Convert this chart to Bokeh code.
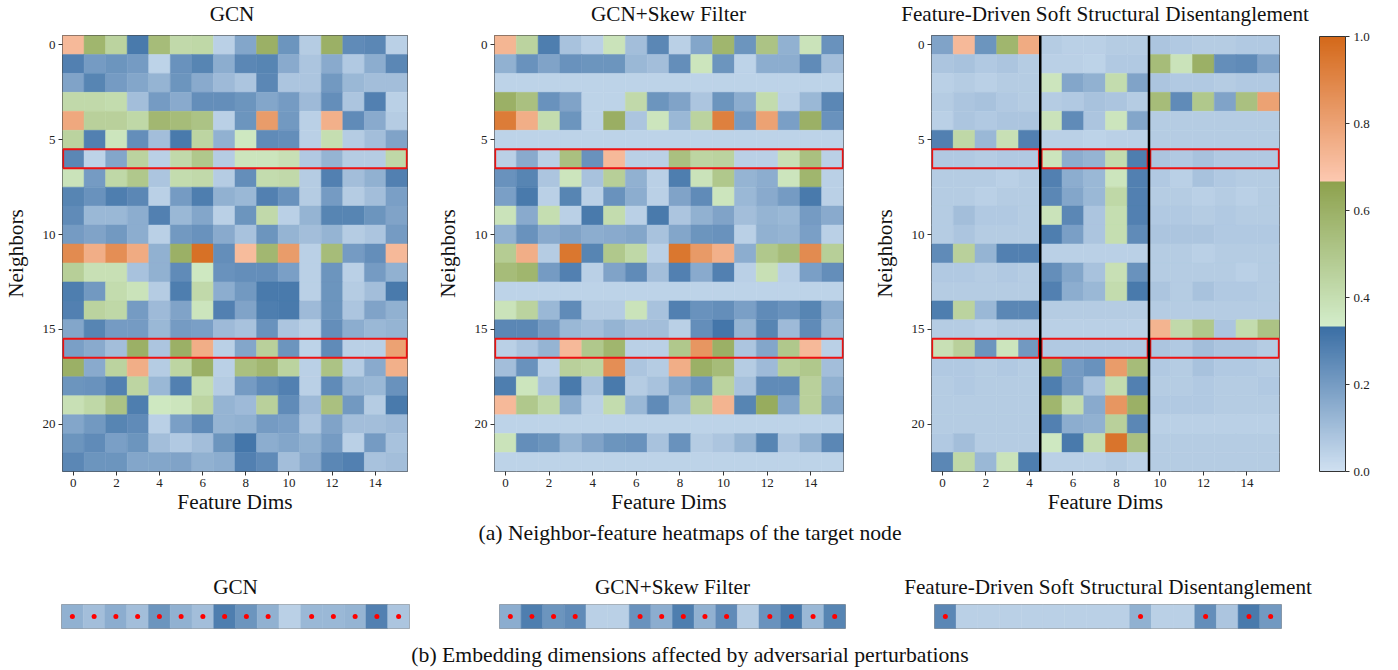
from bokeh.plotting import figure
from bokeh.models import (ColumnDataSource, LinearColorMapper, ColorBar, FixedTicker,
                          PrintfTickFormatter, Range1d, Div, Span)
from bokeh.layouts import row, column
from bokeh.transform import transform
from bokeh.embed import file_html
from bokeh.resources import INLINE

FONT = "Liberation Serif"

# ---------------- data ----------------
x_ticks = [0, 2, 4, 6, 8, 10, 12, 14]
y_ticks = [0, 5, 10, 15, 20]
cbar_ticks = [0.0, 0.2, 0.4, 0.6, 0.8, 1.0]
highlight_rows = [6, 16]
fd_split_cols = [4.5, 9.5]

titles = ["GCN", "GCN+Skew Filter", "Feature-Driven Soft Structural Disentanglement"]

gcn = [
    [0.72, 0.58, 0.45, 0.30, 0.55, 0.42, 0.43, 0.05, 0.17, 0.60, 0.22, 0.06, 0.60, 0.25, 0.26, 0.05],
    [0.28, 0.20, 0.22, 0.20, 0.04, 0.23, 0.27, 0.15, 0.26, 0.27, 0.16, 0.08, 0.16, 0.07, 0.15, 0.26],
    [0.18, 0.27, 0.20, 0.17, 0.13, 0.22, 0.16, 0.11, 0.08, 0.26, 0.08, 0.08, 0.21, 0.12, 0.10, 0.10],
    [0.42, 0.42, 0.41, 0.10, 0.20, 0.16, 0.24, 0.24, 0.22, 0.17, 0.20, 0.11, 0.24, 0.08, 0.28, 0.05],
    [0.78, 0.46, 0.46, 0.43, 0.57, 0.55, 0.52, 0.05, 0.22, 0.82, 0.21, 0.05, 0.75, 0.25, 0.16, 0.06],
    [0.45, 0.28, 0.37, 0.24, 0.10, 0.30, 0.44, 0.14, 0.36, 0.25, 0.24, 0.05, 0.40, 0.06, 0.10, 0.18],
    [0.26, 0.04, 0.17, 0.45, 0.05, 0.42, 0.50, 0.06, 0.37, 0.37, 0.39, 0.07, 0.13, 0.06, 0.06, 0.43],
    [0.38, 0.20, 0.43, 0.50, 0.08, 0.41, 0.42, 0.06, 0.24, 0.41, 0.42, 0.06, 0.28, 0.10, 0.14, 0.28],
    [0.27, 0.23, 0.29, 0.26, 0.05, 0.20, 0.29, 0.14, 0.12, 0.28, 0.23, 0.06, 0.20, 0.06, 0.10, 0.19],
    [0.25, 0.12, 0.12, 0.15, 0.28, 0.12, 0.17, 0.05, 0.22, 0.42, 0.05, 0.13, 0.27, 0.27, 0.22, 0.18],
    [0.20, 0.18, 0.21, 0.15, 0.05, 0.21, 0.23, 0.16, 0.09, 0.22, 0.13, 0.10, 0.13, 0.06, 0.08, 0.20],
    [0.88, 0.76, 0.87, 0.77, 0.14, 0.60, 0.97, 0.24, 0.71, 0.57, 0.82, 0.05, 0.55, 0.20, 0.24, 0.72],
    [0.47, 0.39, 0.39, 0.09, 0.14, 0.25, 0.36, 0.23, 0.24, 0.24, 0.19, 0.05, 0.22, 0.05, 0.20, 0.14],
    [0.29, 0.21, 0.41, 0.38, 0.06, 0.29, 0.42, 0.15, 0.21, 0.30, 0.30, 0.05, 0.22, 0.06, 0.10, 0.30],
    [0.28, 0.45, 0.43, 0.20, 0.11, 0.18, 0.37, 0.28, 0.18, 0.29, 0.30, 0.11, 0.22, 0.08, 0.18, 0.14],
    [0.17, 0.27, 0.20, 0.20, 0.12, 0.20, 0.19, 0.11, 0.09, 0.23, 0.08, 0.05, 0.24, 0.15, 0.12, 0.13],
    [0.19, 0.16, 0.10, 0.60, 0.08, 0.60, 0.76, 0.05, 0.17, 0.46, 0.22, 0.04, 0.25, 0.05, 0.05, 0.80],
    [0.60, 0.16, 0.45, 0.76, 0.06, 0.44, 0.60, 0.05, 0.53, 0.57, 0.45, 0.05, 0.52, 0.06, 0.16, 0.75],
    [0.22, 0.23, 0.28, 0.44, 0.12, 0.28, 0.40, 0.06, 0.20, 0.25, 0.28, 0.05, 0.25, 0.13, 0.12, 0.23],
    [0.39, 0.43, 0.52, 0.29, 0.36, 0.37, 0.44, 0.13, 0.11, 0.46, 0.25, 0.11, 0.53, 0.21, 0.06, 0.30],
    [0.17, 0.21, 0.27, 0.25, 0.05, 0.19, 0.25, 0.13, 0.14, 0.20, 0.19, 0.08, 0.18, 0.10, 0.10, 0.11],
    [0.22, 0.25, 0.19, 0.22, 0.10, 0.07, 0.10, 0.22, 0.31, 0.15, 0.17, 0.14, 0.20, 0.05, 0.20, 0.09],
    [0.26, 0.22, 0.22, 0.17, 0.17, 0.18, 0.14, 0.15, 0.28, 0.25, 0.10, 0.16, 0.26, 0.28, 0.09, 0.10],
]

skew = [
    [0.73, 0.45, 0.29, 0.09, 0.05, 0.38, 0.10, 0.26, 0.05, 0.17, 0.58, 0.22, 0.52, 0.14, 0.38, 0.23],
    [0.14, 0.23, 0.18, 0.23, 0.22, 0.22, 0.12, 0.10, 0.24, 0.37, 0.22, 0.04, 0.15, 0.15, 0.25, 0.10],
    [0.04, 0.04, 0.04, 0.04, 0.04, 0.04, 0.04, 0.04, 0.04, 0.04, 0.04, 0.04, 0.04, 0.04, 0.04, 0.04],
    [0.60, 0.53, 0.23, 0.18, 0.04, 0.04, 0.42, 0.22, 0.18, 0.08, 0.22, 0.15, 0.41, 0.05, 0.12, 0.26],
    [0.93, 0.76, 0.41, 0.22, 0.04, 0.61, 0.08, 0.37, 0.12, 0.45, 0.92, 0.20, 0.80, 0.19, 0.60, 0.23],
    [0.04, 0.04, 0.04, 0.04, 0.04, 0.04, 0.04, 0.04, 0.04, 0.04, 0.04, 0.04, 0.04, 0.04, 0.04, 0.04],
    [0.05, 0.16, 0.05, 0.53, 0.23, 0.72, 0.05, 0.05, 0.53, 0.44, 0.45, 0.05, 0.05, 0.39, 0.53, 0.05],
    [0.23, 0.27, 0.08, 0.37, 0.09, 0.47, 0.14, 0.05, 0.29, 0.38, 0.50, 0.13, 0.15, 0.37, 0.58, 0.05],
    [0.19, 0.30, 0.05, 0.27, 0.05, 0.23, 0.15, 0.05, 0.18, 0.25, 0.37, 0.12, 0.16, 0.20, 0.30, 0.05],
    [0.38, 0.16, 0.40, 0.05, 0.30, 0.41, 0.05, 0.30, 0.08, 0.14, 0.18, 0.10, 0.13, 0.12, 0.20, 0.16],
    [0.14, 0.23, 0.16, 0.18, 0.15, 0.16, 0.17, 0.09, 0.17, 0.22, 0.23, 0.05, 0.14, 0.13, 0.19, 0.05],
    [0.48, 0.76, 0.06, 0.95, 0.27, 0.50, 0.43, 0.05, 0.95, 0.83, 0.75, 0.15, 0.50, 0.55, 0.88, 0.47],
    [0.55, 0.58, 0.20, 0.28, 0.05, 0.18, 0.25, 0.10, 0.28, 0.16, 0.28, 0.05, 0.39, 0.05, 0.19, 0.24],
    [0.04, 0.04, 0.04, 0.04, 0.04, 0.04, 0.04, 0.04, 0.04, 0.04, 0.04, 0.04, 0.04, 0.04, 0.04, 0.04],
    [0.38, 0.45, 0.12, 0.25, 0.06, 0.06, 0.38, 0.09, 0.28, 0.23, 0.24, 0.19, 0.25, 0.23, 0.27, 0.15],
    [0.26, 0.26, 0.20, 0.12, 0.10, 0.13, 0.10, 0.10, 0.05, 0.24, 0.31, 0.13, 0.27, 0.11, 0.25, 0.12],
    [0.05, 0.08, 0.13, 0.72, 0.50, 0.58, 0.05, 0.05, 0.50, 0.84, 0.60, 0.08, 0.17, 0.50, 0.72, 0.05],
    [0.10, 0.23, 0.05, 0.46, 0.44, 0.87, 0.08, 0.06, 0.76, 0.60, 0.55, 0.06, 0.11, 0.47, 0.50, 0.10],
    [0.29, 0.37, 0.09, 0.30, 0.09, 0.30, 0.06, 0.09, 0.17, 0.22, 0.45, 0.09, 0.25, 0.25, 0.46, 0.14],
    [0.72, 0.50, 0.43, 0.15, 0.05, 0.41, 0.12, 0.25, 0.12, 0.46, 0.74, 0.27, 0.62, 0.17, 0.46, 0.17],
    [0.04, 0.04, 0.04, 0.04, 0.04, 0.04, 0.04, 0.04, 0.04, 0.04, 0.04, 0.04, 0.04, 0.04, 0.04, 0.04],
    [0.38, 0.24, 0.22, 0.13, 0.18, 0.22, 0.23, 0.09, 0.23, 0.06, 0.08, 0.13, 0.27, 0.08, 0.14, 0.26],
    [0.04, 0.04, 0.04, 0.04, 0.04, 0.04, 0.04, 0.04, 0.04, 0.04, 0.04, 0.04, 0.04, 0.04, 0.04, 0.04],
]

fdssd = [
    [0.18, 0.72, 0.22, 0.58, 0.77, 0.06, 0.05, 0.05, 0.06, 0.06, 0.08, 0.07, 0.06, 0.06, 0.07, 0.07],
    [0.08, 0.09, 0.07, 0.08, 0.06, 0.05, 0.05, 0.04, 0.07, 0.07, 0.55, 0.38, 0.60, 0.24, 0.25, 0.18],
    [0.05, 0.06, 0.05, 0.06, 0.06, 0.37, 0.17, 0.14, 0.41, 0.18, 0.08, 0.07, 0.07, 0.06, 0.07, 0.07],
    [0.06, 0.08, 0.09, 0.07, 0.06, 0.06, 0.07, 0.09, 0.08, 0.06, 0.55, 0.25, 0.50, 0.18, 0.53, 0.80],
    [0.05, 0.08, 0.07, 0.08, 0.08, 0.38, 0.25, 0.08, 0.37, 0.17, 0.06, 0.06, 0.06, 0.06, 0.06, 0.06],
    [0.28, 0.43, 0.12, 0.39, 0.28, 0.05, 0.05, 0.04, 0.05, 0.05, 0.06, 0.06, 0.06, 0.06, 0.06, 0.06],
    [0.07, 0.07, 0.06, 0.07, 0.07, 0.37, 0.15, 0.13, 0.41, 0.29, 0.08, 0.07, 0.09, 0.07, 0.07, 0.07],
    [0.06, 0.06, 0.06, 0.05, 0.06, 0.28, 0.15, 0.12, 0.37, 0.28, 0.07, 0.05, 0.09, 0.07, 0.06, 0.06],
    [0.06, 0.06, 0.05, 0.06, 0.06, 0.26, 0.17, 0.12, 0.43, 0.28, 0.06, 0.06, 0.05, 0.06, 0.05, 0.06],
    [0.06, 0.10, 0.07, 0.07, 0.06, 0.38, 0.26, 0.08, 0.40, 0.28, 0.07, 0.07, 0.06, 0.07, 0.06, 0.06],
    [0.06, 0.08, 0.06, 0.06, 0.06, 0.29, 0.19, 0.08, 0.40, 0.25, 0.08, 0.08, 0.08, 0.07, 0.07, 0.07],
    [0.25, 0.46, 0.13, 0.28, 0.28, 0.05, 0.05, 0.05, 0.05, 0.05, 0.06, 0.06, 0.05, 0.06, 0.06, 0.06],
    [0.07, 0.07, 0.06, 0.07, 0.06, 0.24, 0.17, 0.09, 0.39, 0.23, 0.06, 0.06, 0.06, 0.06, 0.05, 0.06],
    [0.06, 0.06, 0.06, 0.06, 0.06, 0.28, 0.15, 0.12, 0.41, 0.30, 0.08, 0.06, 0.09, 0.07, 0.07, 0.06],
    [0.29, 0.45, 0.12, 0.26, 0.26, 0.06, 0.06, 0.06, 0.06, 0.06, 0.06, 0.06, 0.06, 0.06, 0.06, 0.06],
    [0.06, 0.06, 0.05, 0.06, 0.06, 0.05, 0.05, 0.05, 0.05, 0.05, 0.74, 0.42, 0.50, 0.08, 0.41, 0.52],
    [0.39, 0.46, 0.22, 0.37, 0.21, 0.07, 0.07, 0.07, 0.07, 0.07, 0.08, 0.07, 0.10, 0.08, 0.08, 0.06],
    [0.07, 0.07, 0.06, 0.07, 0.06, 0.58, 0.20, 0.23, 0.82, 0.55, 0.07, 0.06, 0.09, 0.07, 0.07, 0.06],
    [0.06, 0.07, 0.06, 0.06, 0.06, 0.29, 0.20, 0.09, 0.41, 0.28, 0.06, 0.06, 0.07, 0.06, 0.06, 0.07],
    [0.06, 0.06, 0.06, 0.06, 0.06, 0.58, 0.41, 0.16, 0.84, 0.60, 0.07, 0.07, 0.07, 0.06, 0.06, 0.06],
    [0.06, 0.06, 0.06, 0.06, 0.06, 0.28, 0.15, 0.14, 0.46, 0.26, 0.05, 0.05, 0.05, 0.05, 0.05, 0.05],
    [0.07, 0.10, 0.06, 0.06, 0.06, 0.36, 0.30, 0.41, 0.96, 0.53, 0.06, 0.06, 0.06, 0.06, 0.06, 0.06],
    [0.26, 0.43, 0.12, 0.38, 0.29, 0.05, 0.05, 0.05, 0.06, 0.05, 0.06, 0.06, 0.06, 0.06, 0.06, 0.06],
]

strip_gcn = [0.14, 0.10, 0.15, 0.10, 0.22, 0.14, 0.10, 0.29, 0.22, 0.14, 0.05, 0.12, 0.12, 0.13, 0.28, 0.08]
strip_skew = [0.15, 0.29, 0.22, 0.25, 0.05, 0.05, 0.23, 0.15, 0.29, 0.14, 0.25, 0.06, 0.23, 0.30, 0.12, 0.27]
strip_fd = [0.26, 0.05, 0.05, 0.05, 0.05, 0.05, 0.05, 0.05, 0.05, 0.14, 0.05, 0.05, 0.24, 0.08, 0.30, 0.21]
dots_gcn = [0, 1, 2, 3, 4, 5, 6, 7, 8, 9, 11, 12, 13, 14, 15]
dots_skew = [0, 1, 2, 3, 6, 7, 8, 9, 10, 12, 13, 14, 15]
dots_fd = [0, 9, 12, 14, 15]

caption_a = "(a) Neighbor-feature heatmaps of the target node"
caption_b = "(b) Embedding dimensions affected by adversarial perturbations"

# ---------------- colormap ----------------
def _lerp(c0, c1, t):
    return "#%02x%02x%02x" % tuple(int(round(a + (b - a) * t)) for a, b in zip(c0, c1))

segments = [((207, 224, 241), (59, 111, 165)),
            ((211, 237, 202), (142, 162, 78)),
            ((252, 200, 176), (212, 105, 26))]
N_PER = 85
palette = []
for c0, c1 in segments:
    for i in range(N_PER):
        palette.append(_lerp(c0, c1, i / (N_PER - 1)))
mapper = LinearColorMapper(palette=palette, low=0.0, high=1.0)

TITLE_SIZE = "21.2px"
TITLE_ROW_H = 28

# layout of the top row: (figure width, left border, frame width, right border)
top_cfg = [(430, 57, 350, 23), (438, 64, 349, 25), (530, 63, 348, 119)]


def style_text_axes(p):
    p.axis.major_label_text_font = FONT
    p.axis.major_label_text_font_size = "13px"
    p.axis.major_label_text_color = "#222"
    p.axis.axis_label_text_font = FONT
    p.axis.axis_label_text_font_size = "21.3px"
    p.axis.axis_label_text_font_style = "normal"
    p.axis.axis_label_text_color = "#111"
    p.axis.axis_line_color = None
    p.axis.minor_tick_line_color = None
    p.axis.major_tick_in = 0
    p.axis.major_tick_out = 4
    p.axis.major_tick_line_color = "#333"
    p.axis.major_label_standoff = 3
    p.xaxis.axis_label_standoff = 0
    p.yaxis.axis_label_standoff = 12


def heatmap(mat, cfg, split=None):
    width, mbl, fw, mbr = cfg
    n_rows = len(mat)
    n_cols = len(mat[0])
    p = figure(width=width, height=518 - TITLE_ROW_H,
               x_range=Range1d(-0.5, n_cols - 0.5), y_range=Range1d(n_rows - 0.5, -0.5),
               output_backend="svg", toolbar_location=None,
               min_border_left=mbl, min_border_right=mbr,
               min_border_top=35 - TITLE_ROW_H, min_border_bottom=47)
    xs, ys, vs = [], [], []
    for r, rv in enumerate(mat):
        for c, v in enumerate(rv):
            xs.append(c)
            ys.append(r)
            vs.append(v)
    src = ColumnDataSource(dict(x=xs, y=ys, v=vs))
    p.rect(x="x", y="y", width=1, height=1, source=src,
           fill_color=transform("v", mapper), line_color=transform("v", mapper), line_width=0.5)
    # red highlight rectangles
    bounds = [-0.5] + (split or []) + [n_cols - 0.5]
    rx, ry, rw = [], [], []
    for hr in highlight_rows:
        for a, b in zip(bounds[:-1], bounds[1:]):
            ia = 0.06 if a > -0.5 else 0.03
            ib = 0.06 if b < n_cols - 0.5 else 0.03
            rx.append((a + ia + b - ib) / 2)
            ry.append(hr)
            rw.append(b - ib - a - ia)
    p.rect(x=rx, y=ry, width=rw, height=1, fill_color=None, line_color="#ee1111", line_width=2)
    if split:
        for s in split:
            p.add_layout(Span(location=s, dimension="height", line_color="black", line_width=2.5))
    p.xaxis.ticker = FixedTicker(ticks=x_ticks)
    p.yaxis.ticker = FixedTicker(ticks=y_ticks)
    p.xaxis.axis_label = "Feature Dims"
    p.yaxis.axis_label = "Neighbors"
    style_text_axes(p)
    p.grid.visible = False
    p.outline_line_color = "#444"
    p.outline_line_width = 1
    return p


f1 = heatmap(gcn, top_cfg[0])
f2 = heatmap(skew, top_cfg[1])
f3 = heatmap(fdssd, top_cfg[2], split=fd_split_cols)

cb = ColorBar(color_mapper=mapper, width=26, height=435, padding=0, margin=0, location=(40, 0),
              ticker=FixedTicker(ticks=cbar_ticks), formatter=PrintfTickFormatter(format="%.1f"),
              major_label_text_font=FONT, major_label_text_font_size="13px",
              major_label_text_color="#222",
              major_tick_in=0, major_tick_out=4, major_tick_line_color="#333",
              minor_tick_line_color=None,
              bar_line_color="#333", background_fill_color=None, border_line_color=None,
              label_standoff=4)
f3.add_layout(cb, "right")

# title row above the heatmaps (centred on each frame)
spans = []
x0 = 0
for (width, mbl, fw, mbr), t in zip(top_cfg, titles):
    cx = x0 + mbl + fw / 2
    spans.append('<span style="position:absolute;left:%.1fpx;top:0;transform:translateX(-50%%);'
                 'white-space:nowrap;line-height:%dpx">%s</span>' % (cx, TITLE_ROW_H, t))
    x0 += width
title_row = Div(text='<div style="position:relative;width:1398px;height:%dpx">%s</div>'
                     % (TITLE_ROW_H, "".join(spans)),
                width=1398, height=TITLE_ROW_H, margin=0,
                styles={"font-family": FONT, "font-size": TITLE_SIZE, "color": "#111"})


def strip(vals, dots, title, width, mbl, mbr):
    n = len(vals)
    p = figure(width=width, height=92, x_range=Range1d(-0.5, n - 0.5), y_range=Range1d(-0.5, 0.5),
               output_backend="svg", toolbar_location=None,
               x_axis_location=None, y_axis_location=None,
               min_border_left=mbl, min_border_right=mbr, min_border_top=56, min_border_bottom=12,
               title=title)
    src = ColumnDataSource(dict(x=list(range(n)), y=[0] * n, v=vals))
    p.rect(x="x", y="y", width=1, height=1, source=src,
           fill_color=transform("v", mapper), line_color=transform("v", mapper), line_width=0.5)
    p.scatter(x=dots, y=[0] * len(dots), size=5, color="#ff0000", line_color=None)
    p.grid.visible = False
    p.outline_line_color = "#999"
    p.outline_line_width = 1
    p.title.text_font = FONT
    p.title.text_font_size = TITLE_SIZE
    p.title.text_font_style = "normal"
    p.title.text_color = "#111"
    p.title.align = "center"
    p.title.standoff = 12
    return p


s1 = strip(strip_gcn, dots_gcn, titles[0], 454, 61, 45)
s2 = strip(strip_skew, dots_skew, titles[1], 436, 45, 45)
s3 = strip(strip_fd, dots_fd, titles[2], 508, 44, 117)


def caption(text, h):
    return Div(text=text, width=1398, height=h, margin=0,
               styles={"font-family": FONT, "font-size": "21.7px", "text-align": "center",
                       "line-height": "%dpx" % h, "color": "#111", "padding-right": "18px",
                       "box-sizing": "border-box", "white-space": "nowrap"})


cap_a = caption(caption_a, 30)
cap_b = caption(caption_b, 30)

layout = column(title_row, row(f1, f2, f3), cap_a, row(s1, s2, s3), cap_b)

open("out.html", "w").write(file_html(layout, INLINE))
